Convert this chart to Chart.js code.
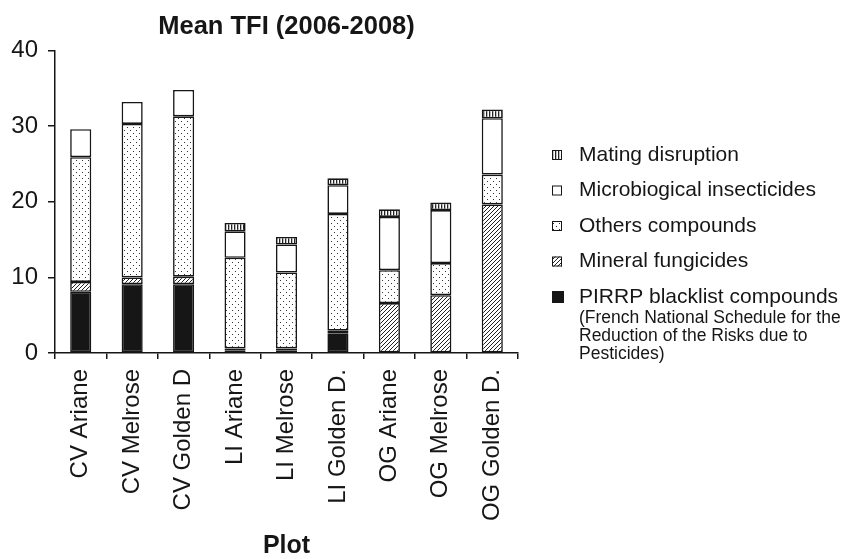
<!DOCTYPE html>
<html>
<head>
<meta charset="utf-8">
<script src="https://cdn.jsdelivr.net/npm/chart.js@4.4.1/dist/chart.umd.min.js"></script>
<style>
  html, body { margin: 0; padding: 0; background: #fff; }
  #wrap { width: 843px; height: 559px; position: relative; }
</style>
</head>
<body>
<div id="wrap"><canvas id="tfiChart"></canvas></div>
<script>
const categories = ['CV Ariane', 'CV Melrose', 'CV Golden D', 'LI Ariane', 'LI Melrose', 'LI Golden D.', 'OG Ariane', 'OG Melrose', 'OG Golden D.'];
const pirrpValues   = [8.1, 9.1, 9.1, 0.3, 0.3, 2.6, 0, 0, 0];
const mineralValues = [1.3, 0.9, 1.0, 0.3, 0.3, 0.35, 6.6, 7.65, 19.65];
const othersValues  = [16.5, 20.3, 21.2, 12.0, 10.05, 15.45, 4.35, 4.25, 3.95];
const microValues   = [3.7, 2.9, 3.5, 3.5, 3.7, 3.8, 7.05, 7.0, 7.45];
const matingValues  = [0, 0, 0, 1.1, 1.0, 0.9, 1.0, 1.0, 1.15];
const yTicks = [0, 10, 20, 30, 40];
const seriesNames = ['PIRRP blacklist compounds', 'Mineral fungicides', 'Others compounds', 'Microbiogical insecticides', 'Mating disruption'];
const pirrpNote = ['(French National Schedule for the', 'Reduction of the Risks due to', 'Pesticides)'];

const FONT = '"Liberation Sans", Arial, sans-serif';
const INK = '#161616';

function makePattern(w, h, draw) {
    const c = document.createElement('canvas');
    c.width = w; c.height = h;
    const g = c.getContext('2d');
    g.fillStyle = '#fff';
    g.fillRect(0, 0, w, h);
    draw(g);
    return document.getElementById('tfiChart').getContext('2d').createPattern(c, 'repeat');
}

const dotFill = makePattern(6, 6, g => {
    g.fillStyle = '#333';
    g.fillRect(1, 1, 1, 1);
    g.fillRect(4, 4, 1, 1);
});
const hatchFill = makePattern(4, 4, g => {
    g.strokeStyle = '#222';
    g.lineWidth = 1;
    g.beginPath();
    g.moveTo(-1, 5); g.lineTo(5, -1);
    g.moveTo(-1, 1); g.lineTo(1, -1);
    g.moveTo(3, 5); g.lineTo(5, 3);
    g.stroke();
});
const stripeFill = makePattern(3, 3, g => {
    g.fillStyle = '#222';
    g.fillRect(0, 0, 1.3, 3);
});

const fills = [INK, hatchFill, dotFill, '#ffffff', stripeFill];
const seriesValues = [pirrpValues, mineralValues, othersValues, microValues, matingValues];

// legend on the right, drawn from the datasets (top = last stacked)
const sideLegend = {
    id: 'sideLegend',
    afterDraw(chart) {
        const ctx = chart.ctx;
        const sets = chart.data.datasets.slice().reverse();
        ctx.save();
        sets.forEach((ds, i) => {
            const cy = 155 + i * 35.5;
            const big = ds.label === seriesNames[0];
            const s = big ? 12 : 10;
            ctx.fillStyle = ds.backgroundColor;
            ctx.fillRect(552, cy - s / 2, s, s);
            ctx.strokeStyle = INK;
            ctx.lineWidth = 1;
            ctx.strokeRect(552.5, cy - s / 2 + 0.5, s - 1, s - 1);
            ctx.fillStyle = INK;
            ctx.font = '21px ' + FONT;
            ctx.textBaseline = 'middle';
            ctx.textAlign = 'left';
            ctx.fillText(ds.label, 579, cy);
        });
        ctx.font = '17.5px ' + FONT;
        pirrpNote.forEach((line, i) => {
            ctx.fillText(line, 579, 318 + i * 18);
        });
        ctx.restore();
    }
};

new Chart(document.getElementById('tfiChart'), {
    type: 'bar',
    data: {
        labels: categories,
        datasets: seriesNames.map((name, i) => ({
            label: name,
            data: seriesValues[i],
            backgroundColor: fills[i],
            borderColor: INK,
            borderWidth: ctx => (ctx.raw ? 1.6 : 0),
            borderSkipped: false,
            barPercentage: 0.41,
            categoryPercentage: 1
        }))
    },
    options: {
        responsive: true,
        maintainAspectRatio: false,
        animation: false,
        layout: { padding: { left: 0, right: 325, top: 0, bottom: 0 } },
        plugins: {
            legend: { display: false },
            tooltip: { enabled: false },
            title: {
                display: true,
                fullSize: false,
                text: 'Mean TFI (2006-2008)',
                color: INK,
                font: { family: FONT, size: 25.5, weight: 'bold' },
                padding: { top: 12, bottom: 8 }
            }
        },
        scales: {
            x: {
                stacked: true,
                offset: true,
                border: { display: true, color: INK, width: 1.5 },
                grid: { display: true, offset: true, drawOnChartArea: false, drawTicks: true, tickLength: 6, color: INK, lineWidth: 1.5 },
                ticks: { color: INK, font: { family: FONT, size: 24 }, minRotation: 90, maxRotation: 90, padding: 10, autoSkip: false },
                title: { display: true, text: 'Plot', color: INK, font: { family: FONT, size: 25, weight: 'bold', lineHeight: 1 }, padding: { top: 10, bottom: 0 } },
                afterFit: scale => { scale.height = 206; }
            },
            y: {
                stacked: true,
                min: 0,
                max: 40,
                border: { display: true, color: INK, width: 1.5 },
                grid: { display: true, drawOnChartArea: false, drawTicks: true, tickLength: 7, color: INK, lineWidth: 1.5 },
                afterBuildTicks: scale => { scale.ticks = yTicks.map(v => ({ value: v })); },
                ticks: { color: INK, font: { family: FONT, size: 24 }, padding: 10 },
                afterFit: scale => { scale.width = 55; }
            }
        }
    },
    plugins: [sideLegend]
});
</script>
</body>
</html>
